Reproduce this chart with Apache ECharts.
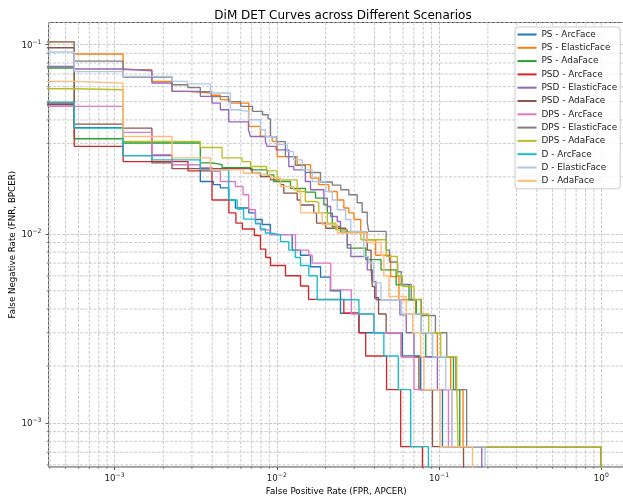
<!DOCTYPE html>
<html><head><meta charset="utf-8">
<script src="https://cdn.jsdelivr.net/npm/echarts@6/dist/echarts.min.js"></script>
<style>html,body{margin:0;padding:0;background:#fff}#c{width:623px;height:499px}</style>
</head><body><div id="c"></div>
<script>
const seriesNames = ['PS - ArcFace','PS - ElasticFace','PS - AdaFace','PSD - ArcFace','PSD - ElasticFace','PSD - AdaFace','DPS - ArcFace','DPS - ElasticFace','DPS - AdaFace','D - ArcFace','D - ElasticFace','D - AdaFace'];
const seriesColors = ['#1f77b4','#ff7f0e','#2ca02c','#d62728','#9467bd','#8c564b','#e377c2','#7f7f7f','#bcbd22','#17becf','#aec7e8','#ffbb78'];

const psArcFpr = [1e-5,5.65e-4,1.13e-3,2.26e-3,3.38e-3,4.07e-3,4.49e-3,5.06e-3,5.56e-3,6.72e-3,7.39e-3,8.13e-3,9.14e-3,0.01245,0.0140,0.01614,0.01862,0.0214,0.0247,0.0321,0.0594,0.0771,0.105,1.0];
const psArcFnr = [0.0481,0.0364,0.0259,0.0232,0.0189,0.0182,0.0175,0.0151,0.0137,0.0129,0.0119,0.0112,0.0099,0.0082,0.0077,0.0067,0.0059,0.0050,0.0038,0.0030,0.00226,0.0015,0.00075,1e-5];
const psElasticFpr = [1e-5,5.65e-4,1.13e-3,1.70e-3,2.26e-3,2.81e-3,3.95e-3,4.49e-3,5.18e-3,6.72e-3,7.93e-3,9.37e-3,0.01006,0.01336,0.01614,0.01816,0.02094,0.0236,0.0259,0.0278,0.0299,0.0329,0.0343,0.0407,0.0503,0.0566,0.0718,0.0771,0.0977,0.118,0.1406,1.0];
const psElasticFnr = [0.1035,0.0893,0.0738,0.064,0.0566,0.0555,0.054,0.0512,0.0491,0.0370,0.0327,0.0308,0.0256,0.0232,0.0197,0.0182,0.01675,0.0151,0.0137,0.0129,0.0119,0.0102,0.0093,0.0077,0.00594,0.00448,0.00377,0.0030,0.00224,0.0015,0.00075,1e-5];
const psAdaFpr = [1e-5,5.65e-4,1.13e-3,3.38e-3,4.01e-3,4.60e-3,6.88e-3,8.73e-3,9.58e-3,0.01215,0.01503,0.01733,0.0195,0.0205,0.022,0.0247,0.0272,0.0354,0.0439,0.0544,0.0653,0.0724,0.0771,0.0828,0.1227,0.1342,1.0];
const psAdaFnr = [0.0753,0.0318,0.0302,0.0237,0.0232,0.0224,0.0218,0.0205,0.0189,0.0174,0.0166,0.01545,0.01424,0.01287,0.01093,0.0102,0.0084,0.0073,0.00645,0.00537,0.00448,0.00377,0.0030,0.00224,0.0015,0.00075,1e-5];
const psdArcFpr = [1e-5,5.65e-4,1.13e-3,2.84e-3,3.99e-3,5.07e-3,5.60e-3,6.14e-3,7.28e-3,7.93e-3,8.55e-3,9.15e-3,0.01132,0.0140,0.0157,0.0259,0.0321,0.0353,0.0475,0.0580,0.0790];
const psdArcFnr = [0.0486,0.0290,0.0241,0.0215,0.0151,0.0129,0.0114,0.0106,0.0098,0.0083,0.0075,0.0068,0.0060,0.0053,0.0045,0.0038,0.0030,0.00226,0.0015,0.00075,1e-5];
const psdElasticFpr = [1e-5,5.65e-4,1.13e-3,1.70e-3,2.26e-3,3.38e-3,3.99e-3,4.49e-3,5.06e-3,6.69e-3,6.88e-3,8.51e-3,8.73e-3,9.90e-3,0.01186,0.01273,0.0150,0.01614,0.0195,0.0205,0.0215,0.0236,0.0247,0.0272,0.0286,0.0361,0.0388,0.0409,0.0574,0.0628,0.0701,0.0977,0.1197,0.1834];
const psdElasticFnr = [0.0767,0.0744,0.0728,0.0627,0.0566,0.0533,0.0491,0.0453,0.0391,0.0355,0.0327,0.0308,0.0290,0.0278,0.0227,0.0218,0.0189,0.0171,0.01545,0.01395,0.01235,0.01162,0.0105,0.00875,0.00759,0.00645,0.00559,0.00448,0.00373,0.0030,0.00224,0.0015,0.00075,1e-5];
const psdAdaFpr = [1e-5,5.65e-4,1.13e-3,1.70e-3,2.26e-3,7.05e-3,7.93e-3,9.15e-3,0.01054,0.01105,0.01336,0.0140,0.0169,0.01758,0.0200,0.0266,0.0361,0.0381,0.0388,0.0401,0.0424,0.0472,0.0585,0.0752,0.0911,0.1415];
const psdAdaFnr = [0.0963,0.0380,0.0362,0.0237,0.0221,0.0209,0.0201,0.0193,0.0182,0.0164,0.0151,0.0142,0.0129,0.0114,0.0107,0.0102,0.0082,0.0067,0.00526,0.00459,0.00377,0.0030,0.00224,0.0015,0.00075,1e-5];
const dpsArcFpr = [1e-5,1.13e-3,1.70e-3,2.26e-3,3.38e-3,3.99e-3,4.49e-3,5.56e-3,6.2e-3,6.72e-3,7.39e-3,7.93e-3,9.05e-3,0.01304,0.01576,0.01654,0.0215,0.0288,0.0397,0.0585,0.0701,0.1143,1.0];
const dpsArcFnr = [0.0472,0.0344,0.0262,0.0232,0.0224,0.0214,0.0189,0.0178,0.0161,0.0134,0.0114,0.0105,0.0099,0.0082,0.0077,0.0070,0.00505,0.00377,0.0030,0.00224,0.0015,0.00075,1e-5];
const dpsElasticFpr = [1e-5,5.65e-4,1.13e-3,2.26e-3,2.83e-3,3.38e-3,3.95e-3,5.04e-3,5.98e-3,7.09e-3,8.17e-3,8.84e-3,9.15e-3,9.98e-3,0.0113,0.0130,0.0150,0.0186,0.0220,0.0248,0.0278,0.0313,0.0336,0.0361,0.0369,0.0472,0.0495,0.0556,0.0585,0.0674,0.0778,0.095,0.1116,0.127,0.148,1.0];
const dpsElasticFnr = [0.1035,0.0818,0.0674,0.0614,0.0593,0.0564,0.0531,0.0500,0.0472,0.0444,0.0426,0.0405,0.0326,0.0307,0.0256,0.0230,0.0211,0.0188,0.0181,0.0171,0.0161,0.0146,0.0130,0.0115,0.0103,0.0082,0.0071,0.0063,0.0054,0.0045,0.0037,0.0030,0.00224,0.0015,0.00075,1e-5];
const dpsAdaFpr = [1e-5,5.65e-4,1.13e-3,3.38e-3,4.60e-3,6.11e-3,6.88e-3,8.64e-3,0.01006,0.01336,0.0150,0.01733,0.01816,0.0205,0.0231,0.0266,0.033,0.0472,0.0553,0.0594,0.0701,0.0771,0.0864,0.1025,0.1286,0.131,1.0];
const dpsAdaFnr = [0.0585,0.0578,0.0308,0.0286,0.0252,0.0241,0.0227,0.0215,0.0193,0.01675,0.01483,0.0146,0.0129,0.0114,0.0105,0.0102,0.0093,0.0076,0.0060,0.00526,0.00448,0.00377,0.0030,0.00224,0.0015,0.00075,1e-5];
const dArcFpr = [1e-5,5.65e-4,1.13e-3,1.70e-3,3.38e-3,5.06e-3,5.70e-3,6.25e-3,7.39e-3,7.93e-3,8.51e-3,9.14e-3,0.01054,0.01186,0.0130,0.0140,0.01576,0.01775,0.0321,0.0397,0.0457,0.0561,0.0669,0.086];
const dArcFnr = [0.0496,0.0362,0.0259,0.0246,0.0218,0.0151,0.01352,0.01196,0.0113,0.0106,0.0101,0.0099,0.0091,0.0082,0.0075,0.0068,0.0060,0.00448,0.00377,0.0030,0.00226,0.0015,0.00075,1e-5];
const dElasticFpr = [1e-5,5.65e-4,1.13e-3,2.26e-3,2.80e-3,3.90e-3,5.18e-3,5.70e-3,6.69e-3,7.93e-3,8.51e-3,9.90e-3,0.0116,0.01268,0.01435,0.01654,0.0200,0.022,0.0236,0.0266,0.0286,0.0344,0.0368,0.0395,0.0439,0.0585,0.0771,0.0914,0.110,0.1197,0.192];
const dElasticFnr = [0.0915,0.0720,0.0680,0.0640,0.0620,0.0555,0.0453,0.0444,0.0401,0.0355,0.0326,0.0296,0.0272,0.0246,0.0218,0.0189,0.01675,0.0151,0.0134,0.0119,0.0103,0.0076,0.0070,0.0055,0.00448,0.00377,0.0030,0.00224,0.0015,0.00075,1e-5];
const dAdaFpr = [1e-5,5.65e-4,1.13e-3,2.26e-3,3.90e-3,6.25e-3,7.21e-3,9.14e-3,0.01054,0.01273,0.0140,0.01906,0.0236,0.0361,0.0439,0.0457,0.0491,0.0628,0.0688,0.0771,0.0808,0.1015,0.1607];
const dAdaFnr = [0.064,0.0626,0.0327,0.0252,0.0218,0.0209,0.0205,0.0198,0.0178,0.0171,0.0129,0.0112,0.0101,0.0090,0.0077,0.0060,0.00466,0.00377,0.0030,0.00224,0.0015,0.00075,1e-5];

const fprLists = [psArcFpr,psElasticFpr,psAdaFpr,psdArcFpr,psdElasticFpr,psdAdaFpr,dpsArcFpr,dpsElasticFpr,dpsAdaFpr,dArcFpr,dElasticFpr,dAdaFpr];
const fnrLists = [psArcFnr,psElasticFnr,psAdaFnr,psdArcFnr,psdElasticFnr,psdAdaFnr,dpsArcFnr,dpsElasticFnr,dpsAdaFnr,dArcFnr,dElasticFnr,dAdaFnr];

const xMin = 3.92e-4, xMax = 1.38, yMin = 5.85e-4, yMax = 0.131;
const xMinorTicks = [4e-4,5e-4,6e-4,7e-4,8e-4,9e-4,2e-3,3e-3,4e-3,5e-3,6e-3,7e-3,8e-3,9e-3,0.02,0.03,0.04,0.05,0.06,0.07,0.08,0.09,0.2,0.3,0.4,0.5,0.6,0.7,0.8,0.9];
const yMinorTicks = [6e-4,7e-4,8e-4,9e-4,2e-3,3e-3,4e-3,5e-3,6e-3,7e-3,8e-3,9e-3,0.02,0.03,0.04,0.05,0.06,0.07,0.08,0.09];

const FONT = 'DejaVu Sans';
const gridColor = '#b9b9b9';
const tickColor = '#333';

function powLabel(v) {
  const l = Math.log10(v), e = Math.round(l);
  if (Math.abs(l - e) > 1e-6) return '';
  return '{b|10}{s|' + (e < 0 ? '\u2212' : '') + Math.abs(e) + '}';
}
const richLab = {
  b: {fontSize: 8.7, fontFamily: FONT, color: '#222', lineHeight: 11, verticalAlign: 'bottom'},
  s: {fontSize: 6.1, fontFamily: FONT, color: '#222', lineHeight: 11, verticalAlign: 'top'}
};

const lineSeries = seriesNames.map((name, i) => ({
  name, type: 'line', step: 'end', showSymbol: false, symbol: 'none', clip: true,
  color: seriesColors[i],
  lineStyle: {color: seriesColors[i], width: 1.35},
  data: fprLists[i].map((x, j) => [x, fnrLists[i][j]]),
  z: 3, animation: false
}));

const minorGrid = {
  type: 'custom', silent: true, z: 1, animation: false,
  data: xMinorTicks.map(v => [v, 0]).concat(yMinorTicks.map(v => [v, 1])),
  encode: {x: -1, y: -1},
  renderItem: (params, api) => {
    const v = api.value(0), kind = api.value(1);
    let a, b, t1, t2;
    if (kind === 0) {
      a = api.coord([v, yMax]); b = api.coord([v, yMin]);
      t1 = b; t2 = [b[0], b[1] + 1.8];
    } else {
      a = api.coord([xMin, v]); b = api.coord([xMax, v]);
      t1 = a; t2 = [a[0] - 1.8, a[1]];
    }
    return {type: 'group', children: [
      {type: 'line', shape: {x1: a[0], y1: a[1], x2: b[0], y2: b[1]}, style: {stroke: gridColor, lineWidth: 0.75, lineDash: [3, 1.5]}},
      {type: 'line', shape: {x1: t1[0], y1: t1[1], x2: t2[0], y2: t2[1]}, style: {stroke: tickColor, lineWidth: 0.6}}
    ]};
  }
};

const chart = echarts.init(document.getElementById('c'), null, {renderer: 'canvas'});
chart.setOption({
  animation: false,
  backgroundColor: '#fff',
  textStyle: {fontFamily: FONT},
  title: {text: 'DiM DET Curves across Different Scenarios', left: 338, top: 5, textAlign: 'center',
    textStyle: {fontSize: 12, fontWeight: 'normal', color: '#000', fontFamily: FONT}},
  grid: {left: 48.5, right: -1, top: 22.5, bottom: 32, containLabel: false, outerBoundsMode: 'none',
    show: true, borderColor: '#444', borderWidth: 1, backgroundColor: 'transparent'},
  legend: {
    orient: 'vertical', left: 515, top: 27, icon: 'rect', itemWidth: 19, itemHeight: 2, itemGap: 0.3,
    padding: [1, 3, 1.5, 2.5], borderColor: '#cccccc', borderWidth: 1, borderRadius: 3,
    backgroundColor: 'rgba(255,255,255,0.8)',
    textStyle: {fontSize: 8.9, fontFamily: FONT, color: '#222', lineHeight: 13},
    data: seriesNames
  },
  xAxis: {
    type: 'log', logBase: 10, min: xMin, max: xMax,
    name: 'False Positive Rate (FPR, APCER)', nameLocation: 'middle', nameGap: 20.5, nameMoveOverlap: false,
    nameTextStyle: {fontSize: 8.7, fontFamily: FONT, color: '#000'},
    axisLine: {show: false},
    axisTick: {show: true, length: 3, lineStyle: {color: tickColor, width: 0.8}},
    axisLabel: {formatter: powLabel, rich: richLab, margin: 5.5, showMinLabel: false, showMaxLabel: false},
    splitLine: {show: true, lineStyle: {color: gridColor, width: 0.75, type: [3, 1.5]}},
    minorTick: {show: false}
  },
  yAxis: {
    type: 'log', logBase: 10, min: yMin, max: yMax,
    name: 'False Negative Rate (FNR, BPCER)', nameLocation: 'middle', nameGap: 31.5, nameRotate: 90, nameMoveOverlap: false,
    nameTextStyle: {fontSize: 8.7, fontFamily: FONT, color: '#000'},
    axisLine: {show: false},
    axisTick: {show: true, length: 3, lineStyle: {color: tickColor, width: 0.8}},
    axisLabel: {formatter: powLabel, rich: richLab, margin: 7, showMinLabel: false, showMaxLabel: false},
    splitLine: {show: true, lineStyle: {color: gridColor, width: 0.75, type: [3, 1.5]}},
    minorTick: {show: false}
  },
  series: [minorGrid].concat(lineSeries)
});
</script></body></html>
